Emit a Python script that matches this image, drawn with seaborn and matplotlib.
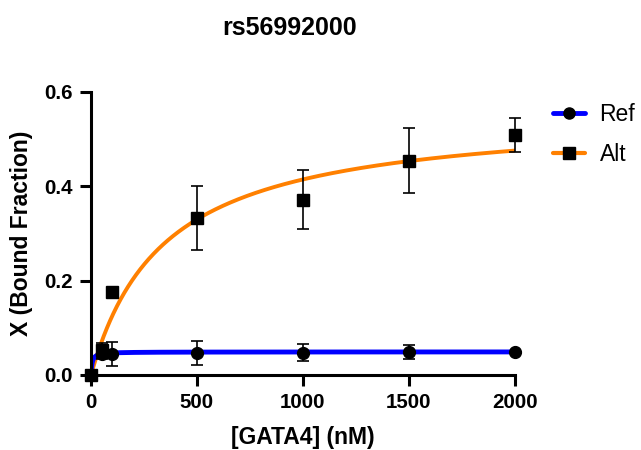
import numpy as np
import pandas as pd
import matplotlib
matplotlib.use("Agg")
import matplotlib.pyplot as plt
import seaborn as sns
from matplotlib.lines import Line2D

# Data
conc = [0, 50, 100, 500, 1000, 1500, 2000]
ref_vals = [0.0, 0.045, 0.045, 0.046, 0.047, 0.048, 0.049]
ref_err = [0.0, 0.012, 0.025, 0.025, 0.018, 0.015, 0.0]
alt_vals = [0.0, 0.052, 0.175, 0.332, 0.372, 0.454, 0.508]
alt_err = [0.0, 0.015, 0.01, 0.068, 0.063, 0.069, 0.036]

# One-site binding fit parameters (Bmax, Kd)
ref_bmax, ref_kd = 0.049, 5.0
alt_bmax, alt_kd = 0.558, 346.0

sns.set_style("ticks")
plt.rcParams['font.family'] = ['Liberation Sans', 'DejaVu Sans']
for k in ["text.color", "axes.labelcolor", "xtick.color", "ytick.color", "axes.edgecolor"]:
    plt.rcParams[k] = "black"

fig = plt.figure(figsize=(6.41, 4.5), dpi=100)
ax = fig.add_axes([0.142, 0.1667, 0.661, 0.6289])

xfit = np.linspace(0, 2000, 801)
fit_df = pd.DataFrame({
    "x": np.concatenate([xfit, xfit]),
    "y": np.concatenate([ref_bmax * xfit / (ref_kd + xfit),
                         alt_bmax * xfit / (alt_kd + xfit)]),
    "series": ["Ref"] * len(xfit) + ["Alt"] * len(xfit),
})
sns.lineplot(data=fit_df[fit_df.series == "Alt"], x="x", y="y", color="#FF8000",
             linewidth=2.8, ax=ax, legend=False, zorder=2)
sns.lineplot(data=fit_df[fit_df.series == "Ref"], x="x", y="y", color="#0000FF",
             linewidth=3.5, ax=ax, legend=False, zorder=2)

ax.errorbar(conc, alt_vals, yerr=alt_err, fmt="s", color="black", markersize=8.5,
            capsize=4.5, elinewidth=1.2, capthick=1.2, clip_on=False, zorder=4)
ax.errorbar(conc, ref_vals, yerr=ref_err, fmt="o", color="black", markersize=8.5,
            capsize=4.5, elinewidth=1.2, capthick=1.2, clip_on=False, zorder=4)

ax.set_xlim(0, 2000)
ax.set_ylim(0, 0.6)
ax.set_xticks([0, 500, 1000, 1500, 2000])
ax.set_yticks([0.0, 0.2, 0.4, 0.6])
ax.set_yticklabels(["0.0", "0.2", "0.4", "0.6"])
for s in ["top", "right"]:
    ax.spines[s].set_visible(False)
for s in ["left", "bottom"]:
    ax.spines[s].set_linewidth(2.2)
ax.tick_params(axis="both", width=2.2, length=8, labelsize=14.8, direction="out", pad=5)
for lab in ax.get_xticklabels() + ax.get_yticklabels():
    lab.set_fontweight("bold")
ax.set_xlabel("[GATA4] (nM)", fontsize=16.5, fontweight="bold", labelpad=10)
ax.set_ylabel("X (Bound Fraction)", fontsize=16.5, fontweight="bold", labelpad=8)

fig.text(0.452, 0.937, "rs56992000", ha="center", va="center", fontsize=18,
         fontweight="bold")

handles = [
    Line2D([0], [0], color="#0000FF", lw=3.5, marker="o", markerfacecolor="black",
           markeredgecolor="black", markersize=8),
    Line2D([0], [0], color="#FF8000", lw=3, marker="s", markerfacecolor="black",
           markeredgecolor="black", markersize=8),
]
fig.legend(handles, ["Ref", "Alt"], loc="upper left", bbox_to_anchor=(0.862, 0.772),
           frameon=False, fontsize=16.5, handlelength=1.4, labelspacing=0.75,
           handletextpad=0.65, borderaxespad=0, borderpad=0)

fig.savefig("out.png", dpi=100)
